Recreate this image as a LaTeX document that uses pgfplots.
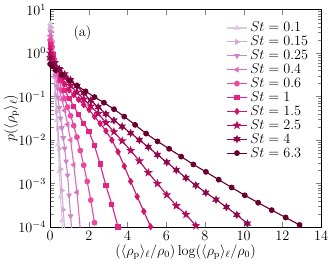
\documentclass[border=0pt]{standalone}
\usepackage{pgfplots}
\pgfplotsset{compat=1.18}
\definecolor{c1}{RGB}{221,201,228}
\definecolor{c2}{RGB}{214,168,212}
\definecolor{c3}{RGB}{204,136,198}
\definecolor{c4}{RGB}{222,108,184}
\definecolor{c5}{RGB}{232,74,160}
\definecolor{c6}{RGB}{228,36,132}
\definecolor{c7}{RGB}{210,20,108}
\definecolor{c8}{RGB}{178,12,92}
\definecolor{c9}{RGB}{142,8,76}
\definecolor{c10}{RGB}{104,0,48}
\pgfdeclareplotmark{fstarv}{%
  \pgfpathmoveto{\pgfpointpolar{90}{1.35\pgfplotmarksize}}%
  \pgfpathlineto{\pgfpointpolar{126}{0.55\pgfplotmarksize}}%
  \pgfpathlineto{\pgfpointpolar{162}{1.35\pgfplotmarksize}}%
  \pgfpathlineto{\pgfpointpolar{198}{0.55\pgfplotmarksize}}%
  \pgfpathlineto{\pgfpointpolar{234}{1.35\pgfplotmarksize}}%
  \pgfpathlineto{\pgfpointpolar{270}{0.55\pgfplotmarksize}}%
  \pgfpathlineto{\pgfpointpolar{306}{1.35\pgfplotmarksize}}%
  \pgfpathlineto{\pgfpointpolar{342}{0.55\pgfplotmarksize}}%
  \pgfpathlineto{\pgfpointpolar{18}{1.35\pgfplotmarksize}}%
  \pgfpathlineto{\pgfpointpolar{54}{0.55\pgfplotmarksize}}%
  \pgfpathclose\pgfusepathqfillstroke}
\pgfdeclareplotmark{fstarvi}{%
  \pgfpathmoveto{\pgfpointpolar{90}{1.3\pgfplotmarksize}}%
  \pgfpathlineto{\pgfpointpolar{120}{0.65\pgfplotmarksize}}%
  \pgfpathlineto{\pgfpointpolar{150}{1.3\pgfplotmarksize}}%
  \pgfpathlineto{\pgfpointpolar{180}{0.65\pgfplotmarksize}}%
  \pgfpathlineto{\pgfpointpolar{210}{1.3\pgfplotmarksize}}%
  \pgfpathlineto{\pgfpointpolar{240}{0.65\pgfplotmarksize}}%
  \pgfpathlineto{\pgfpointpolar{270}{1.3\pgfplotmarksize}}%
  \pgfpathlineto{\pgfpointpolar{300}{0.65\pgfplotmarksize}}%
  \pgfpathlineto{\pgfpointpolar{330}{1.3\pgfplotmarksize}}%
  \pgfpathlineto{\pgfpointpolar{0}{0.65\pgfplotmarksize}}%
  \pgfpathlineto{\pgfpointpolar{30}{1.3\pgfplotmarksize}}%
  \pgfpathlineto{\pgfpointpolar{60}{0.65\pgfplotmarksize}}%
  \pgfpathclose\pgfusepathqfillstroke}
\begin{document}
\begin{tikzpicture}
\begin{axis}[
  width=228pt, height=183pt, scale only axis,
  xmin=0, xmax=14, ymin=1e-4, ymax=10, ymode=log,
  xtick={0,2,...,14},
  ytick={1e-4,1e-3,1e-2,1e-1,1,10},
  tick label style={font=\large},
  label style={font=\large},
  xlabel={$(\langle\rho_\mathrm{p}\rangle_\ell/\rho_0)\log(\langle\rho_\mathrm{p}\rangle_\ell/\rho_0)$},
  ylabel={$p(\langle\rho_\mathrm{p}\rangle_\ell)$},
  ylabel shift={-7pt},
  xlabel shift={-3pt},
  legend style={draw=none, fill=none, at={(0.975,0.965)}, anchor=north east, row sep=-2pt, font=\large},
  legend cell align=left,
  every axis plot/.append style={line width=0.95pt, mark size=1.95pt},
]
\addplot[c1, mark=triangle*] coordinates {(0,4.786)(0.0512,3.981)(0.105,2.089)(0.161,0.776)(0.219,0.282)(0.279,0.0933)(0.341,0.0282)(0.405,7.94e-3)(0.471,1.91e-3)(0.539,5.01e-4)(0.608,1.41e-4)(0.679,3.98e-5)};
\addlegendentry{$St = 0.1$}
\addplot[c2, mark=triangle*, mark options={rotate=-90}] coordinates {(0,3.981)(0.0512,3.162)(0.105,1.862)(0.161,0.741)(0.219,0.295)(0.279,0.112)(0.341,0.0447)(0.405,0.0186)(0.471,6.31e-3)(0.539,2.14e-3)(0.608,6.92e-4)(0.679,2.51e-4)(0.752,7.94e-5)};
\addlegendentry{$St = 0.15$}
\addplot[c3, mark=triangle*, mark options={rotate=180}] coordinates {(0,3.162)(0.0512,2.399)(0.105,1.698)(0.161,1.0)(0.219,0.525)(0.279,0.302)(0.341,0.174)(0.405,0.0955)(0.471,0.0550)(0.539,0.0316)(0.608,0.0191)(0.679,0.0112)(0.752,6.46e-3)(0.826,3.24e-3)(0.902,1.55e-3)(0.979,5.37e-4)(1.058,1.78e-4)(1.138,6.31e-5)};
\addlegendentry{$St = 0.25$}
\addplot[c4, mark=triangle*, mark options={rotate=90}] coordinates {(0,2.512)(0.105,1.549)(0.219,0.676)(0.341,0.302)(0.471,0.148)(0.608,0.0851)(0.752,0.0479)(0.902,0.0229)(1.058,0.0100)(1.220,2.69e-3)(1.386,6.31e-4)(1.558,8.91e-5)};
\addlegendentry{$St = 0.4$}
\addplot[c5, mark=*] coordinates {(0,1.995)(0.105,1.380)(0.219,0.708)(0.341,0.380)(0.471,0.234)(0.608,0.138)(0.752,0.0912)(0.902,0.0575)(1.058,0.0363)(1.220,0.0214)(1.386,0.0117)(1.558,5.75e-3)(1.735,2.63e-3)(1.916,1.12e-3)(2.101,4.17e-4)(2.291,1.26e-4)};
\addlegendentry{$St = 0.6$}
\addplot[c6, mark=square*, mark size=1.7pt] coordinates {(0,1.585)(0.161,0.912)(0.341,0.437)(0.539,0.240)(0.752,0.141)(0.979,0.0912)(1.220,0.0603)(1.471,0.0380)(1.735,0.0240)(2.008,0.0158)(2.291,7.41e-3)(2.583,2.82e-3)(2.883,8.91e-4)(3.191,3.31e-4)(3.507,1.0e-4)};
\addlegendentry{$St = 1$}
\addplot[c7, mark=diamond*, mark size=2.3pt] coordinates {(0,1.259)(0.161,0.776)(0.341,0.468)(0.539,0.302)(0.752,0.195)(0.979,0.141)(1.220,0.110)(1.471,0.0851)(1.735,0.0646)(2.008,0.0501)(2.291,0.0347)(2.583,0.0240)(2.883,0.0162)(3.191,0.0100)(3.507,5.37e-3)(3.831,2.51e-3)(4.161,1.12e-3)(4.497,5.01e-4)(4.841,2.29e-4)(5.190,1.02e-4)};
\addlegendentry{$St = 1.5$}
\addplot[c8, mark=fstarv] coordinates {(0,1.0)(0.219,0.603)(0.471,0.417)(0.752,0.275)(1.058,0.178)(1.386,0.126)(1.735,0.0871)(2.101,0.0603)(2.484,0.0407)(2.883,0.0251)(3.296,0.0155)(3.722,9.55e-3)(4.161,5.75e-3)(4.611,3.31e-3)(5.073,1.78e-3)(5.545,1.0e-3)(6.027,5.50e-4)(6.519,3.09e-4)(7.020,1.95e-4)(7.529,1.07e-4)};
\addlegendentry{$St = 2.5$}
\addplot[c9, mark=fstarvi] coordinates {(0,0.759)(0.219,0.562)(0.471,0.427)(0.752,0.324)(1.058,0.240)(1.386,0.174)(1.735,0.120)(2.101,0.0813)(2.484,0.0575)(2.883,0.0398)(3.296,0.0282)(3.722,0.0204)(4.161,0.0145)(4.611,0.0100)(5.073,6.92e-3)(5.545,4.57e-3)(6.027,3.09e-3)(6.519,2.04e-3)(7.020,1.35e-3)(7.529,9.12e-4)(8.047,6.17e-4)(8.573,4.27e-4)(9.107,2.88e-4)(9.648,1.91e-4)(10.196,1.20e-4)};
\addlegendentry{$St = 4$}
\addplot[c10, mark=*] coordinates {(0,0.562)(0.1,0.501)(0.28,0.407)(0.6,0.316)(0.98,0.234)(1.39,0.178)(1.83,0.132)(2.29,0.0977)(2.78,0.0724)(3.30,0.0513)(3.83,0.0347)(4.39,0.0224)(4.96,0.0141)(5.55,9.33e-3)(6.15,6.31e-3)(6.77,4.17e-3)(7.40,2.75e-3)(8.05,1.86e-3)(8.71,1.23e-3)(9.38,8.13e-4)(10.06,5.37e-4)(10.75,3.63e-4)(11.45,2.45e-4)(12.17,1.66e-4)(12.89,1.12e-4)};
\addlegendentry{$St = 6.3$}
\node[font=\large] at (axis cs:1.67,2.9) {(a)};
\end{axis}
\end{tikzpicture}
\end{document}
